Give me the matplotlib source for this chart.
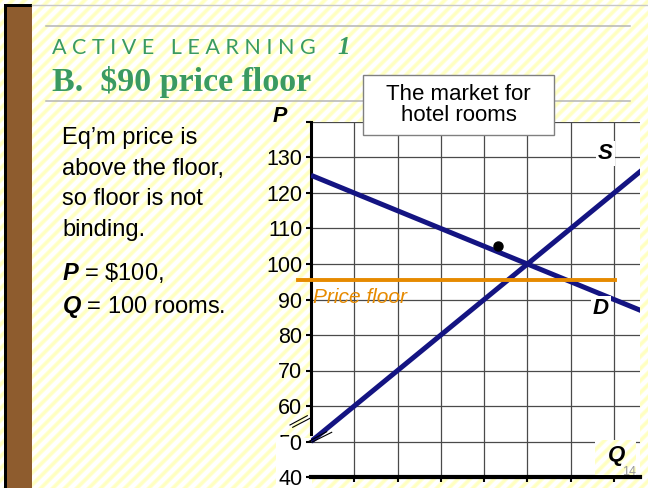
import numpy as np
import matplotlib.pyplot as plt
from matplotlib.patches import Rectangle

plt.rcParams['font.family'] = ['Liberation Sans', 'DejaVu Sans']
plt.rcParams['mathtext.fontset'] = 'custom'
plt.rcParams['mathtext.bfit'] = 'Liberation Sans:bold:italic'
plt.rcParams['mathtext.rm'] = 'Liberation Sans'

# data
supply_q = [0, 20, 40, 60, 80, 100, 120, 140, 160]
supply_p = [50, 60, 70, 80, 90, 100, 110, 120, 130]
demand_q = [0, 20, 40, 60, 80, 100, 120, 140, 160]
demand_p = [125, 120, 115, 110, 105, 100, 95, 90, 85]
floor_q = [-6, 140.5]
floor_p = [95.5, 95.5]
dot_q = [86.5]
dot_p = [105]
y_ticks = [40, 50, 60, 70, 80, 90, 100, 110, 120, 130, 140]
y_labels = ['40', '50', '60', '70', '80', '90', '100', '110', '120', '130', '']
x_grid = [20, 40, 60, 80, 100, 120, 140]

side_text = ["Eq\u2019m price is", "above the floor,", "so floor is not", "binding."]

W, H = 648, 488
navy = '#141482'
green = '#3a9a62'
orange = '#e68a00'

fig = plt.figure(figsize=(6.48, 4.88), dpi=100)

# striped slide background
yy, xx = np.mgrid[0:H, 0:W]
t = np.clip(0.35 + 0.8 * np.cos(2 * np.pi * (xx + yy) / 12.0), 0, 1)
bg = 1 - t[..., None] * np.array([0.0, 0.0, 0.24])

ax_bg = fig.add_axes([0, 0, 1, 1], zorder=-1)
ax_bg.imshow(bg, extent=(0, W, H, 0), interpolation='nearest')
ax_bg.set_xlim(0, W)
ax_bg.set_ylim(H, 0)
ax_bg.axis('off')

ax_bg.add_patch(Rectangle((7, 7), 25, H, color='#8e5c2e', lw=0))
ax_bg.add_patch(Rectangle((4, 4), 3, H, color='black', lw=0))
ax_bg.add_patch(Rectangle((4, 4), 28, 3, color='black', lw=0))
ax_bg.plot([32, W], [5, 5], color='#c8c8c8', lw=1)
ax_bg.plot([46, 630], [26, 26], color='#b5b5b5', lw=1.1)
ax_bg.plot([46, 630], [101, 101], color='#b5b5b5', lw=1.1)
ax_bg.add_patch(Rectangle((276, 438), 36, 50, color='white', lw=0))

ax_bg.text(52, 48, "A C T I V E   L E A R N I N G", family='Lato', fontsize=15.5,
           color=green, va='center', ha='left')
ax_bg.text(337, 48, "1", family='Liberation Serif', fontweight='bold', fontstyle='italic',
           fontsize=18, color=green, va='center', ha='left')
ax_bg.text(52, 91, "B.  $90 price floor", family='Liberation Serif', fontweight='bold',
           fontsize=24.5, color=green, va='baseline', ha='left')

for i, line in enumerate(side_text):
    ax_bg.text(62, 138 + 30.7 * i, line, fontsize=17, va='center', ha='left')
ax_bg.text(62, 273, r"$\mathbfit{P}$ = \$100,", fontsize=17, va='center', ha='left')
ax_bg.text(62, 307, r"$\mathbfit{Q}$ = 100 rooms.", fontsize=17, va='center', ha='left')
ax_bg.text(280, 117, "P", fontsize=15.5, fontweight='bold', fontstyle='italic',
           va='center', ha='center')

# the market diagram
ax = fig.add_axes([311 / W, 1 - 477 / H, (640 - 311) / W, (477 - 122) / H], zorder=1)
ax.set_facecolor('white')
ax.set_xlim(0, 152)
ax.set_ylim(40, 140)
ax.set_xticks(x_grid)
ax.set_xticklabels([])
ax.set_yticks(y_ticks)
ax.set_yticklabels(y_labels, fontsize=15.5)
ax.tick_params(axis='both', direction='out', length=3.8, width=1.5, color='black', pad=2.5)
ax.grid(True, color='#4a4a4a', lw=0.9)
ax.set_axisbelow(True)
for s in ['top', 'right']:
    ax.spines[s].set_visible(False)
ax.spines['left'].set_linewidth(2.2)
ax.spines['left'].set_bounds(52, 140)
ax.spines['bottom'].set_linewidth(3)

ax.plot(supply_q, supply_p, color=navy, lw=3.6, solid_capstyle='butt', zorder=3)
ax.plot(demand_q, demand_p, color=navy, lw=3.6, solid_capstyle='butt', zorder=3)
ax.plot(floor_q, floor_p, color=orange, lw=2.8, clip_on=False, zorder=4)
ax.plot(dot_q, dot_p, 'o', color='black', ms=6.5, zorder=5)
ax.text(0.8, 89, "Price floor", color=orange, fontstyle='italic', fontsize=15,
        va='baseline', ha='left', zorder=5)
ax.text(136, 131, "S", fontsize=16, fontweight='bold', fontstyle='italic',
        va='center', ha='center', zorder=6,
        bbox=dict(facecolor='white', edgecolor='none', pad=1.5))
ax.text(134, 87.5, "D", fontsize=16, fontweight='bold', fontstyle='italic',
        va='center', ha='center', zorder=6,
        bbox=dict(facecolor='white', edgecolor='none', pad=1.5))

# striped box behind the Q label
ax_q = fig.add_axes([595 / W, 1 - 475 / H, 41 / W, 35 / H], zorder=2)
ax_q.imshow(bg[440:475, 595:636], aspect='auto', interpolation='nearest')
ax_q.axis('off')

# overlay for labels drawn on top of everything
ax_top = fig.add_axes([0, 0, 1, 1], zorder=5)
ax_top.set_xlim(0, W)
ax_top.set_ylim(H, 0)
ax_top.axis('off')
ax_top.patch.set_alpha(0)

ax_top.add_patch(Rectangle((363, 75), 191, 60, facecolor='white', edgecolor='#808080', lw=1))
ax_top.text(458.5, 105, "The market for\nhotel rooms", fontsize=16, ha='center',
            va='center', linespacing=1.05)
ax_top.text(617, 456, "Q", fontsize=16, fontweight='bold', fontstyle='italic',
            va='center', ha='center')
ax_top.text(629, 472, "14", fontsize=9, color='#9a9a9a', va='center', ha='center')

# axis break marks and the clipped "50" label
ax_top.plot([290, 307.3], [425, 415.7], color='black', lw=0.8)
ax_top.plot([292.7, 310], [427.3, 418.3], color='black', lw=0.8)
ax_top.plot([308.3, 326.7], [441.7, 431.7], color='black', lw=0.8)
ax_top.plot([311.7, 331.7], [442.3, 432.3], color='black', lw=0.8)
ax_top.add_patch(Rectangle((276, 436.5), 14, 13.5, color='white', lw=0))

fig.savefig('out.png', dpi=100)
